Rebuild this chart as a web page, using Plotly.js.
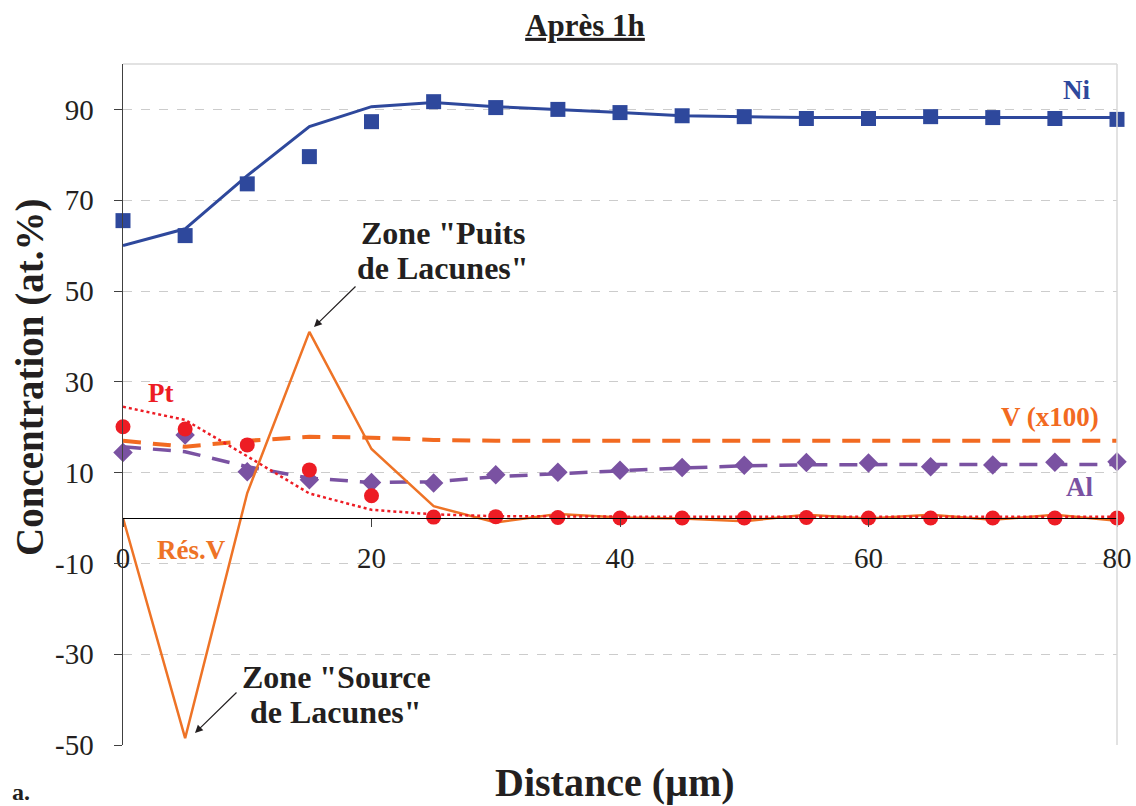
<!DOCTYPE html>
<html>
<head>
<meta charset="utf-8">
<script src="https://cdn.plot.ly/plotly-3.0.1.min.js"></script>
<style>html,body{margin:0;padding:0;background:#fff;}#chart{width:1136px;height:806px;}</style>
</head>
<body>
<div id="chart"></div>
<script>
// Distance (µm)
var distance = [0,5,10,15,20,25,30,35,40,45,50,55,60,65,70,75,80];
// Ni experimental (markers) and model (line)
var niExp   = [65.5,62.2,73.6,79.6,87.3,91.7,90.4,90.0,89.3,88.6,88.4,88.0,88.0,88.4,88.2,88.0,87.8];
var niModel = [60.0,63.7,75.4,86.2,90.6,91.5,90.6,90.0,89.3,88.6,88.4,88.2,88.2,88.2,88.2,88.2,88.2];
// Pt experimental and model
var ptExp   = [20.1,19.6,16.1,10.6,4.9,0.2,0.3,0.1,0.0,0.0,0.0,0.1,0.0,0.0,0.0,0.0,0.0];
var ptModel = [24.5,21.6,13.6,5.4,1.8,0.8,0.4,0.3,0.3,0.3,0.3,0.3,0.3,0.3,0.3,0.3,0.3];
// Al experimental and model
var alExp   = [14.4,18.3,10.2,8.4,7.8,7.7,9.5,10.1,10.5,11.1,11.6,12.2,12.1,11.3,11.7,12.3,12.4];
var alModel = [15.7,14.6,11.3,8.8,7.8,8.0,9.1,9.8,10.4,11.0,11.5,11.7,11.8,11.8,11.8,11.8,11.8];
// V (x100) model
var vModel  = [17.0,15.7,17.0,17.9,17.7,17.2,17.0,17.0,17.0,17.0,17.0,17.0,17.0,17.0,17.0,17.0,17.0];
// Vacancy residual (Rés.V)
var resV    = [0.0,-48.5,5.5,41.0,15.2,2.6,-1.0,0.9,0.1,-0.1,-0.7,0.7,-0.1,0.7,-0.4,0.7,-0.6];
// Axis ticks
var yTicks = [-50,-30,-10,10,30,50,70,90];
var xTicks = [0,20,40,60,80];

var FONT = 'Liberation Serif';
var cNi = '#2E489C', cPt = '#ED1C24', cAl = '#7A52A2', cV = '#F26A21', cRes = '#EE7326';

// pixel -> data helpers for label placement
function dx(px){ return (px-123)/((1117-123)/80); }
function dy(py){ return (518-py)/((745-64)/150); }

var traces = [
  {x: distance, y: vModel, mode:'lines', line:{color:cV, width:4, dash:'18px,12px'}, name:'V (x100)'},
  {x: distance, y: alModel, mode:'lines', line:{color:cAl, width:3.5, dash:'18px,12px'}, name:'Al modèle'},
  {x: distance, y: alExp, mode:'markers', marker:{symbol:'diamond', size:15, color:cAl}, cliponaxis:false, name:'Al'},
  {x: distance, y: niModel, mode:'lines', line:{color:cNi, width:3}, name:'Ni modèle'},
  {x: distance, y: niExp, mode:'markers', marker:{symbol:'square', size:15, color:cNi}, cliponaxis:false, name:'Ni'},
  {x: distance, y: resV, mode:'lines', line:{color:cRes, width:2.5}, cliponaxis:false, name:'Rés.V'},
  {x: distance, y: ptModel, mode:'lines', line:{color:cPt, width:2.5, dash:'dot'}, name:'Pt modèle'},
  {x: distance, y: ptExp, mode:'markers', marker:{symbol:'circle', size:15, color:cPt}, cliponaxis:false, name:'Pt'}
];

function lbl(text, px, py, color, size){
  return {text:text, x:dx(px), y:dy(py), xref:'x', yref:'y', showarrow:false,
    xanchor:'center', yanchor:'middle', font:{family:FONT, size:size, color:color}};
}
function arrow(hx, hy, tx, ty){
  return {text:'', x:dx(hx), y:dy(hy), ax:dx(tx), ay:dy(ty), xref:'x', yref:'y', axref:'x', ayref:'y',
    showarrow:true, arrowhead:2, arrowsize:1.3, arrowwidth:1.2, arrowcolor:'#231F20'};
}
// container-pixel placed text, converted to plot-paper fractions
function ptext(text, px, py, size, angle){
  return {text:text, x:(px-123)/(1117-123), y:(745-py)/(745-64), xref:'paper', yref:'paper', showarrow:false,
    textangle:angle||0, xanchor:'center', yanchor:'middle', font:{family:FONT, size:size, color:'#231F20'}};
}

var annotations = [
  lbl('<b>Ni</b>', 1076, 90, cNi, 27),
  lbl('<b>Pt</b>', 160, 393, cPt, 27),
  lbl('<b>V (x100)</b>', 1050, 417, cV, 27),
  lbl('<b>Al</b>', 1079, 487, cAl, 27),
  lbl('<b>Rés.V</b>', 191, 550, cRes, 27),
  lbl('<b>Zone "Puits</b>', 443, 233, '#231F20', 32),
  lbl('<b>de Lacunes"</b>', 443, 268, '#231F20', 32),
  lbl('<b>Zone "Source</b>', 336, 677, '#231F20', 32),
  lbl('<b>de Lacunes"</b>', 336, 712, '#231F20', 32),
  arrow(314, 327, 357, 285),
  arrow(195, 733, 238, 691),
  ptext('<b>Distance (µm)</b>', 615, 782, 40),
  ptext('<b>Concentration (at.%)</b>', 30, 378, 39, -90),
  ptext('<b>a.</b>', 21, 792, 24)
];

var layout = {
  width:1136, height:806,
  margin:{l:123, r:19, t:64, b:61},
  paper_bgcolor:'#fff', plot_bgcolor:'#fff',
  font:{family:FONT, color:'#231F20'},
  showlegend:false,
  title:{text:'<b><u>Après 1h</u></b>', x:585/1136, xref:'container', y:1-25/806, yref:'container',
    xanchor:'center', yanchor:'middle', font:{family:FONT, size:31, color:'#231F20'}},
  xaxis:{range:[0,80], tickvals:xTicks, ticktext:xTicks.map(String), anchor:'free', position:1/3,
    showline:true, linecolor:'#000', linewidth:1.2, ticks:'outside', ticklen:8, tickcolor:'#404040',
    showgrid:false, zeroline:false, ticklabelstandoff:6,
    tickfont:{family:FONT, size:29, color:'#231F20'}},
  yaxis:{range:[-50,100], tickvals:yTicks, ticktext:yTicks.map(String), showline:true, linecolor:'#404040',
    linewidth:1.5, ticks:'outside', ticklen:8, tickcolor:'#404040', showgrid:true, gridcolor:'#CCCCCC',
    griddash:'dash', gridwidth:1, zeroline:false, ticklabelstandoff:14,
    tickfont:{family:FONT, size:29, color:'#231F20'}},
  shapes:[
    {type:'line', xref:'paper', yref:'paper', x0:0, x1:1, y0:1, y1:1, line:{color:'#D9D9D9', width:1.5}},
    {type:'line', xref:'paper', yref:'paper', x0:1, x1:1, y0:0, y1:1, line:{color:'#D9D9D9', width:1.5}}
  ],
  annotations: annotations
};

Plotly.newPlot('chart', traces, layout, {displayModeBar:false, staticPlot:true});
</script>
</body>
</html>
